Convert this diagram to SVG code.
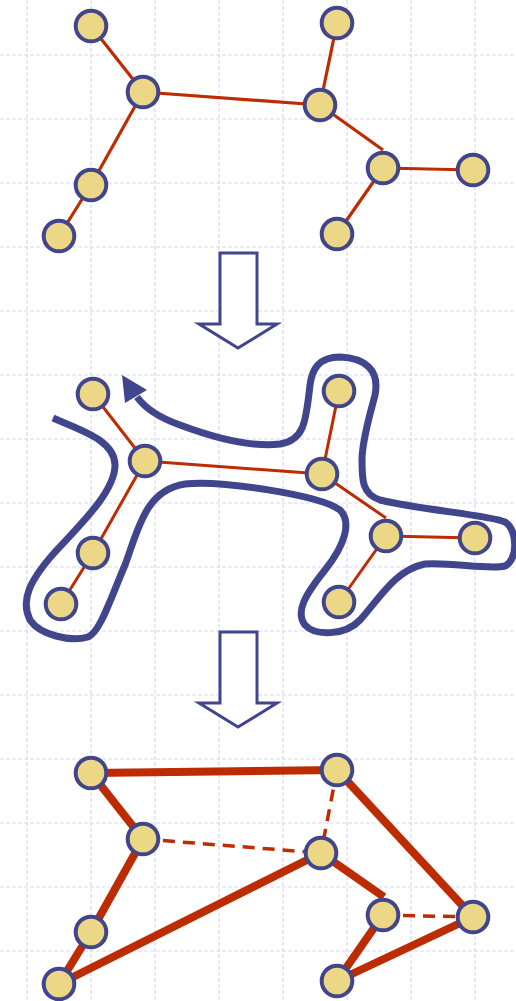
<svg xmlns="http://www.w3.org/2000/svg" width="516" height="1001" viewBox="0 0 516 1001">
<style>
.grid line{stroke:#d6daf6;stroke-width:1.2;stroke-dasharray:4 2}
.node{fill:#ecd786;stroke:#41458c;stroke-width:4}
.e1{stroke:#bd2b00;stroke-width:3.2;fill:none}
.e2{stroke:#bd2b00;stroke-width:3;fill:none}
.e3{stroke:#bd2b00;stroke-width:8;fill:none}
.ed{stroke:#bd2b00;stroke-width:3.5;fill:none;stroke-dasharray:12 8}
.arrow{fill:#fff;stroke:#41458c;stroke-width:3;stroke-linejoin:miter}
.tour{fill:none;stroke:#41458c;stroke-width:7;stroke-linecap:butt;stroke-linejoin:round}
</style>
<rect width="516" height="1001" fill="#fff"/>
<g class="grid">
<line x1="27" y1="0" x2="27" y2="1001"/><line x1="91" y1="0" x2="91" y2="1001"/><line x1="155" y1="0" x2="155" y2="1001"/><line x1="219" y1="0" x2="219" y2="1001"/><line x1="283" y1="0" x2="283" y2="1001"/><line x1="347" y1="0" x2="347" y2="1001"/><line x1="411" y1="0" x2="411" y2="1001"/><line x1="475" y1="0" x2="475" y2="1001"/>
<line x1="0" y1="55" x2="516" y2="55"/><line x1="0" y1="119" x2="516" y2="119"/><line x1="0" y1="183" x2="516" y2="183"/><line x1="0" y1="247" x2="516" y2="247"/><line x1="0" y1="311" x2="516" y2="311"/><line x1="0" y1="375" x2="516" y2="375"/><line x1="0" y1="439" x2="516" y2="439"/><line x1="0" y1="503" x2="516" y2="503"/><line x1="0" y1="567" x2="516" y2="567"/><line x1="0" y1="631" x2="516" y2="631"/><line x1="0" y1="695" x2="516" y2="695"/><line x1="0" y1="759" x2="516" y2="759"/><line x1="0" y1="823" x2="516" y2="823"/><line x1="0" y1="887" x2="516" y2="887"/><line x1="0" y1="951" x2="516" y2="951"/>
</g>
<g id="connectors">
<g id="top-edges" class="e1">
<line x1="91" y1="26" x2="143" y2="92"/><line x1="143" y1="92" x2="91" y2="185"/><line x1="91" y1="185" x2="59" y2="236"/><line x1="143" y1="92" x2="320" y2="105"/><line x1="320" y1="105" x2="337" y2="23"/><line x1="320" y1="105" x2="383" y2="150"/><line x1="383" y1="168" x2="473" y2="170"/><line x1="383" y1="168" x2="337" y2="234"/>
</g>
<g id="mid-edges" class="e2">
<line x1="93" y1="394" x2="145" y2="461"/><line x1="145" y1="461" x2="93" y2="553"/><line x1="93" y1="553" x2="61" y2="604"/><line x1="145" y1="461" x2="322" y2="474"/><line x1="322" y1="474" x2="339" y2="391"/><line x1="322" y1="474" x2="386" y2="518"/><line x1="386" y1="536" x2="475" y2="538"/><line x1="386" y1="536" x2="339" y2="602"/>
</g>
<path id="tour" class="tour" d="M53,418 C80,430 115,440 115,465 C115,490 85,520 55,552 C30,580 20,600 30,620 C40,635 70,642 88,637 C100,632 110,600 125,565 C138,530 145,490 185,484 C220,480 320,495 340,510 C352,522 345,545 325,570 C305,595 295,612 305,625 C315,636 345,636 360,620 C380,598 395,570 425,564 C450,562 490,570 505,566 C518,560 518,530 505,522 C490,515 420,510 380,500 C362,494 362,480 362,460 C362,440 370,415 375,395 C380,370 365,358 340,357 C318,357 312,370 310,385 C306,420 305,440 280,444 C255,447 220,440 180,425 C160,418 145,408 137,397"/>
<polygon id="tour-head" points="122,375 125,403 147,390" fill="#41458c"/>
<g id="bottom-edges">
<line class="e3" x1="91" y1="773" x2="337" y2="770"/>
<line class="e3" x1="91" y1="773" x2="143" y2="839"/>
<line class="e3" x1="143" y1="839" x2="91" y2="932"/>
<line class="e3" x1="91" y1="932" x2="59" y2="984"/>
<line class="e3" x1="59" y1="984" x2="321" y2="853"/>
<line class="e3" x1="321" y1="853" x2="384" y2="897"/>
<line class="e3" x1="337" y1="770" x2="473" y2="917"/>
<line class="e3" x1="473" y1="917" x2="337" y2="981"/>
<line class="e3" x1="337" y1="981" x2="383" y2="915"/>
<line class="ed" x1="143" y1="839" x2="321" y2="853"/>
<line class="ed" x1="337" y1="770" x2="321" y2="853"/>
<line class="ed" x1="383" y1="915" x2="473" y2="917"/>
</g>
</g>
<g id="arrow1"><path class="arrow" d="M220,253 H257 V324 H277 L238,348 L199,324 H220 Z"/></g>
<g id="arrow2"><path class="arrow" d="M220,632 H257 V703 H277 L238,727 L199,703 H220 Z"/></g>
<g id="top-nodes">
<circle id="t1" class="node" cx="91" cy="26" r="15.3"/>
<circle id="t2" class="node" cx="143" cy="92" r="15.3"/>
<circle id="t3" class="node" cx="91" cy="185" r="15.3"/>
<circle id="t4" class="node" cx="59" cy="236" r="15.3"/>
<circle id="t5" class="node" cx="337" cy="23" r="15.3"/>
<circle id="t6" class="node" cx="320" cy="105" r="15.3"/>
<circle id="t7" class="node" cx="383" cy="168" r="15.3"/>
<circle id="t8" class="node" cx="473" cy="170" r="15.3"/>
<circle id="t9" class="node" cx="337" cy="234" r="15.3"/>
</g>
<g id="mid-nodes">
<circle id="m1" class="node" cx="93" cy="394" r="15.3"/>
<circle id="m2" class="node" cx="145" cy="461" r="15.3"/>
<circle id="m3" class="node" cx="93" cy="553" r="15.3"/>
<circle id="m4" class="node" cx="61" cy="604" r="15.3"/>
<circle id="m5" class="node" cx="339" cy="391" r="15.3"/>
<circle id="m6" class="node" cx="322" cy="474" r="15.3"/>
<circle id="m7" class="node" cx="386" cy="536" r="15.3"/>
<circle id="m8" class="node" cx="475" cy="538" r="15.3"/>
<circle id="m9" class="node" cx="339" cy="602" r="15.3"/>
</g>
<g id="bottom-nodes">
<circle id="b1" class="node" cx="91" cy="773" r="15.3"/>
<circle id="b2" class="node" cx="143" cy="839" r="15.3"/>
<circle id="b3" class="node" cx="91" cy="932" r="15.3"/>
<circle id="b4" class="node" cx="59" cy="984" r="15.3"/>
<circle id="b5" class="node" cx="337" cy="770" r="15.3"/>
<circle id="b6" class="node" cx="321" cy="853" r="15.3"/>
<circle id="b7" class="node" cx="383" cy="915" r="15.3"/>
<circle id="b8" class="node" cx="473" cy="917" r="15.3"/>
<circle id="b9" class="node" cx="337" cy="981" r="15.3"/>
</g>
</svg>
